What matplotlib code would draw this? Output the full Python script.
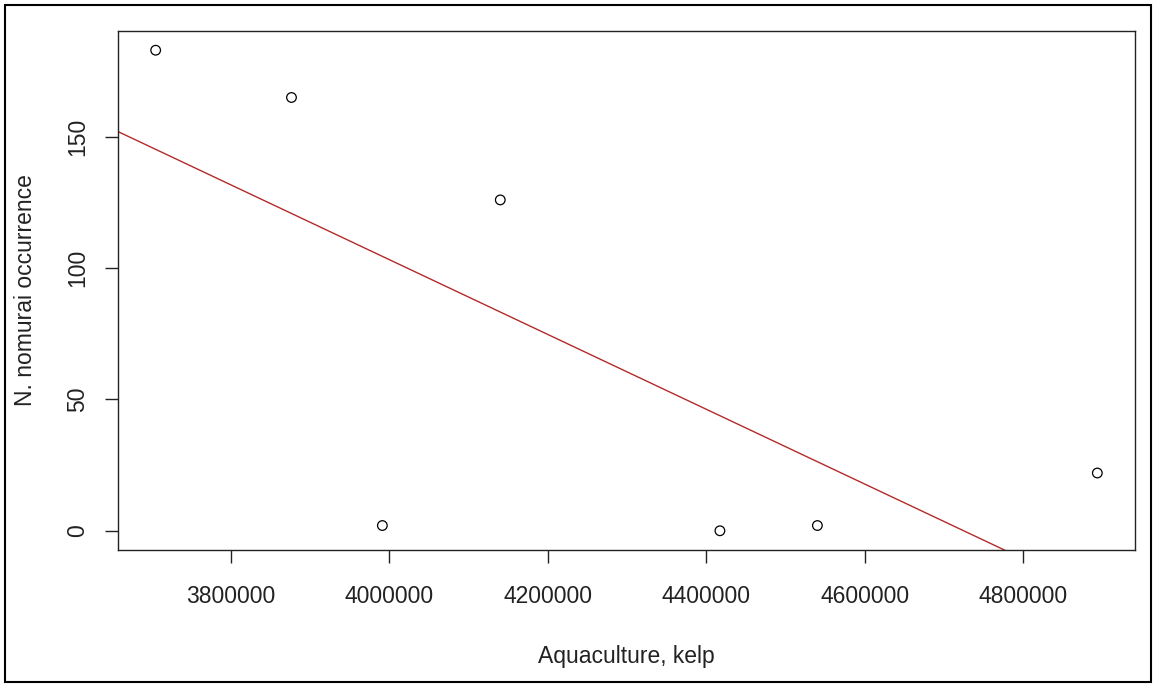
import numpy as np
import matplotlib
matplotlib.use("Agg")
import matplotlib.pyplot as plt
from matplotlib.patches import Rectangle

# Kelp aquaculture production vs. N. nomurai occurrence
kelp_production = [3705200, 3876600, 3991300, 4140100, 4417300, 4540300, 4893600]
nomurai_occurrence = [183, 165, 2, 126, 0, 2, 22]
x_ticks = [3800000, 4000000, 4200000, 4400000, 4600000, 4800000]
y_ticks = [0, 50, 100, 150]

plt.rcParams["font.family"] = ["Liberation Sans", "DejaVu Sans"]

W, H = 1156, 687
fig = plt.figure(figsize=(W / 100, H / 100), dpi=100)
left, right, top, bottom = 118, 1135, 31, 550
ax = fig.add_axes([left / W, 1 - bottom / H, (right - left) / W, (bottom - top) / H])

x = np.array(kelp_production, dtype=float)
y = np.array(nomurai_occurrence, dtype=float)

ax.scatter(x, y, s=48, facecolors="none", edgecolors="black", linewidths=0.9, zorder=3)

# Least-squares fit line spanning the whole panel
slope, intercept = np.polyfit(x, y, 1)

# R-style 4% padding on both axes
xr = x.max() - x.min()
yr = y.max() - y.min()
xlim = (x.min() - 0.04 * xr, x.max() + 0.04 * xr)
ylim = (y.min() - 0.04 * yr, y.max() + 0.04 * yr)
xs = np.array(xlim)
ax.plot(xs, intercept + slope * xs, color="#b42a2a", linewidth=1.0, zorder=2)
ax.set_xlim(*xlim)
ax.set_ylim(*ylim)

ax.set_xticks(x_ticks)
ax.set_xticklabels([str(v) for v in x_ticks])
ax.set_yticks(y_ticks)
ax.set_yticklabels([str(v) for v in y_ticks], rotation=90, va="center")

for sp in ax.spines.values():
    sp.set_linewidth(1.0)
    sp.set_color("#222222")

ax.tick_params(axis="both", length=9.5, width=1.0, color="#222222",
               labelsize=16.5, labelcolor="#222222")
ax.tick_params(axis="x", pad=16)
ax.tick_params(axis="y", pad=11)

ax.set_xlabel("Aquaculture, kelp", fontsize=16.5, color="#222222", labelpad=26)
ax.set_ylabel("N. nomurai occurrence", fontsize=16.5, color="#222222", labelpad=21)

# Outer frame around the whole figure
fig.patches.append(Rectangle((5 / W, 5 / H), (W - 10) / W, (H - 10) / H,
                             transform=fig.transFigure, fill=False,
                             edgecolor="black", linewidth=1.5))

fig.savefig("out.png", dpi=100, facecolor="white")
